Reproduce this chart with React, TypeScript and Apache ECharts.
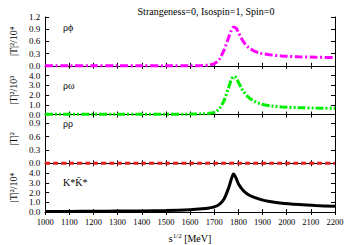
import React, { useEffect, useRef } from "react";
import * as echarts from "echarts";

const energies = [1000, 1100, 1200, 1300, 1400, 1500, 1600, 1650, 1680, 1700, 1720, 1740, 1760, 1770, 1780, 1790, 1800, 1820, 1840, 1860, 1890, 1930, 1980, 2050, 2120, 2200];
const rhoPhi = [0, 0, 0, 0, 0, 0, 0, 0.005, 0.02, 0.05, 0.15, 0.38, 0.7, 0.86, 0.95, 0.93, 0.82, 0.6, 0.46, 0.38, 0.31, 0.27, 0.24, 0.22, 0.21, 0.2];
const rhoOmega = [0.02, 0.02, 0.02, 0.02, 0.02, 0.03, 0.04, 0.07, 0.12, 0.22, 0.55, 1.4, 2.8, 3.5, 3.88, 3.8, 3.3, 2.4, 1.8, 1.45, 1.1, 0.9, 0.78, 0.7, 0.66, 0.64];
const rhoRho = [0, 0, 0, 0, 0, 0, 0, 0, 0, 0, 0, 0, 0, 0, 0, 0, 0, 0, 0, 0, 0, 0, 0, 0, 0, 0];
const kstarKstar = [0.05, 0.06, 0.07, 0.09, 0.11, 0.15, 0.24, 0.33, 0.42, 0.52, 0.75, 1.3, 2.5, 3.3, 3.9, 3.5, 2.9, 2.2, 1.8, 1.55, 1.3, 1.08, 0.9, 0.76, 0.66, 0.58];

const panelLabels = ["ρϕ", "ρω", "ρρ", "K*K̄*"];
const yNames = ["|T|²/10⁴", "|T|²/10³", "|T|²", "|T|²/10⁴"];
const yMax = [1.2, 5, 1.1, 5];
const yInterval = [0.3, 1, 0.3, 1];
const titleText = "Strangeness=0, Isospin=1, Spin=0";

const FONT = "Liberation Serif";

export default function App() {
  const ref = useRef<HTMLDivElement>(null);
  useEffect(() => {
    if (!ref.current) return;
    const chart = echarts.init(ref.current, null, { renderer: "svg" });
    const left = 39;
    const right = 15;
    const top0 = 17;
    const h = 48.75;
    const grids = [0, 1, 2, 3].map((i) => ({ left, right, top: top0 + i * h, height: h }));
    const xAxes: any[] = [];
    const yAxes: any[] = [];
    const lineCommon = { show: true, lineStyle: { color: "#000", width: 1 } };
    for (let i = 0; i < 4; i++) {
      xAxes.push({
        type: "value", gridIndex: i, min: 1000, max: 2200, interval: 100, position: "bottom",
        axisLine: lineCommon,
        axisTick: { show: true, inside: true, length: 3, lineStyle: { color: "#000" } },
        axisLabel: {
          show: i === 3, fontFamily: FONT, fontSize: 8.5, color: "#000", margin: 5,
          formatter: (v: number) => String(v),
        },
        splitLine: { show: false },
        name: i === 3 ? "{a|s}{b|1/2}{a| [MeV]}" : "",
        nameLocation: "middle",
        nameGap: 20,
        nameTextStyle: {
          rich: {
            a: { fontFamily: FONT, fontSize: 10, color: "#000" },
            b: { fontFamily: FONT, fontSize: 7, color: "#000", verticalAlign: "top", padding: [0, 0, 6, 0] },
          },
        },
      });
      xAxes.push({
        type: "value", gridIndex: i, min: 1000, max: 2200, interval: 100, position: "top",
        axisLine: lineCommon,
        axisTick: { show: true, inside: true, length: 3, lineStyle: { color: "#000" } },
        axisLabel: { show: false },
        splitLine: { show: false },
      });
      yAxes.push({
        type: "value", gridIndex: i, min: 0, max: yMax[i], interval: yInterval[i], position: "left",
        axisLine: lineCommon,
        axisTick: { show: true, inside: true, length: 4, lineStyle: { color: "#000" } },
        axisLabel: {
          fontFamily: FONT, fontSize: 9, color: "#000", margin: 5,
          showMaxLabel: i === 0,
          formatter: (v: number) => {
            const r = Math.round(v / yInterval[i]) * yInterval[i];
            return Math.abs(r - v) < 1e-6 ? v.toFixed(1) : "";
          },
        },
        splitLine: { show: false },
        name: yNames[i],
        nameLocation: "middle",
        nameGap: 22,
        nameTextStyle: { fontFamily: FONT, fontSize: 10, color: "#000" },
      });
      yAxes.push({
        type: "value", gridIndex: i, min: 0, max: yMax[i], interval: yInterval[i], position: "right",
        axisLine: lineCommon,
        axisTick: { show: true, inside: true, length: 4, lineStyle: { color: "#000" } },
        axisLabel: { show: false },
        splitLine: { show: false },
      });
    }
    const pairs = (ys: number[]) => energies.map((e, k) => [e, ys[k]]);
    const series: any[] = [
      { data: pairs(rhoPhi), idx: 0, color: "#ff00ff", dash: [8, 2.5, 2, 2.5] },
      { data: pairs(rhoOmega), idx: 1, color: "#00ee00", dash: [8, 2, 2, 2, 2, 2] },
      { data: pairs(rhoRho), idx: 2, color: "#e02020", dash: [5, 3] },
      { data: pairs(kstarKstar), idx: 3, color: "#000000", dash: "solid" },
    ].map((s) => ({
      type: "line",
      xAxisIndex: s.idx * 2,
      yAxisIndex: s.idx * 2,
      data: s.data,
      smooth: 0.3,
      showSymbol: false,
      clip: false,
      lineStyle: { color: s.color, width: 3, type: s.dash, cap: "butt" },
      z: 3,
    }));
    const labelY = [28, 86, 124, 183];
    const graphic = panelLabels.map((t, i) => ({
      type: "text",
      left: 63,
      top: labelY[i] - 6,
      style: { text: t, fontFamily: FONT, fontSize: 10, fill: "#000" },
    }));
    chart.setOption({
      animation: false,
      title: {
        text: titleText, left: 201, top: 1, textAlign: "center",
        textStyle: { fontFamily: FONT, fontSize: 10, fontWeight: "normal", color: "#000" },
      },
      grid: grids,
      xAxis: xAxes,
      yAxis: yAxes,
      series,
      graphic,
    });
    return () => chart.dispose();
  }, []);
  return (
    <div
      ref={ref}
      style={{ position: "fixed", left: 0, top: 0, width: 350, height: 245, background: "#fff" }}
    />
  );
}
